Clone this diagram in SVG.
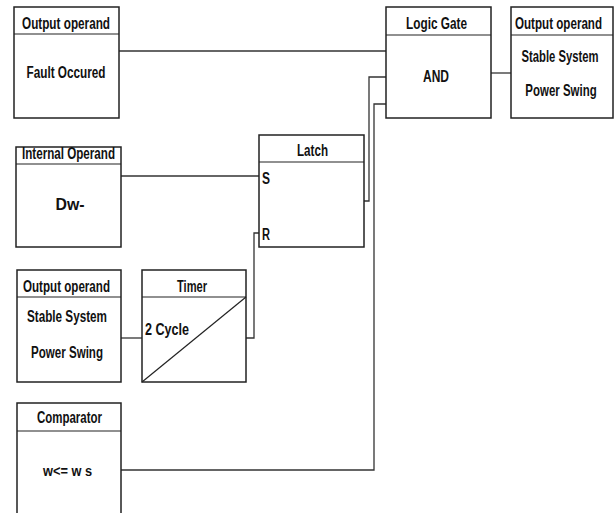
<svg xmlns="http://www.w3.org/2000/svg" width="614" height="513" viewBox="0 0 614 513">
<style>
.box{fill:#fff;stroke:#222;stroke-width:1.5}
.sep{stroke:#222;stroke-width:1.2}
.wire{fill:none;stroke:#333;stroke-width:1.3}
text{font-family:"Liberation Sans",Arial,sans-serif;font-weight:bold;font-size:16px;fill:#111}
.c{text-anchor:middle}
</style>
<rect width="614" height="513" fill="#fff"/>
<g id="connectors">
<path class="wire" d="M119 51H386"/>
<path class="wire" d="M491 73H511"/>
<path class="wire" d="M121 176H259"/>
<path class="wire" d="M364 201H369V77H386"/>
<path class="wire" d="M121 338H142"/>
<path class="wire" d="M246 338H254V233H259"/>
<path class="wire" d="M121 470H374V104H386"/>
</g>
<g id="fault">
<rect class="box" x="14" y="7" width="105" height="111"/>
<line class="sep" x1="14" y1="34" x2="119" y2="34"/>
<text class="c" x="66" y="29" textLength="88" lengthAdjust="spacingAndGlyphs">Output operand</text>
<text class="c" x="66" y="78" textLength="79" lengthAdjust="spacingAndGlyphs">Fault Occured</text>
</g>
<g id="logic">
<rect class="box" x="386" y="7" width="105" height="111"/>
<line class="sep" x1="386" y1="35" x2="491" y2="35"/>
<text class="c" x="436.5" y="29" textLength="61" lengthAdjust="spacingAndGlyphs">Logic Gate</text>
<text class="c" x="436" y="82" textLength="26" lengthAdjust="spacingAndGlyphs">AND</text>
</g>
<g id="out2">
<rect class="box" x="511" y="7" width="102" height="111"/>
<line class="sep" x1="511" y1="35" x2="613" y2="35"/>
<text class="c" transform="translate(558.5 29) scale(0.72 1)" textLength="121" lengthAdjust="spacingAndGlyphs">Output operand</text>
<text class="c" transform="translate(560 62) scale(0.72 1)" textLength="107" lengthAdjust="spacingAndGlyphs">Stable System</text>
<text class="c" transform="translate(561 96) scale(0.72 1)" textLength="99" lengthAdjust="spacingAndGlyphs">Power Swing</text>
</g>
<g id="internal">
<rect class="box" x="16" y="147" width="105" height="100"/>
<line class="sep" x1="16" y1="164" x2="121" y2="164"/>
<text class="c" x="68.5" y="159" textLength="93" lengthAdjust="spacingAndGlyphs">Internal Operand</text>
<text class="c" x="70" y="210" textLength="29" lengthAdjust="spacingAndGlyphs">Dw-</text>
</g>
<g id="latch">
<rect class="box" x="259" y="135" width="105" height="112"/>
<line class="sep" x1="259" y1="162" x2="364" y2="162"/>
<text class="c" x="312.5" y="156" textLength="31" lengthAdjust="spacingAndGlyphs">Latch</text>
<text x="262" y="184" textLength="8" lengthAdjust="spacingAndGlyphs">S</text>
<text x="262" y="240" textLength="8" lengthAdjust="spacingAndGlyphs">R</text>
</g>
<g id="out3">
<rect class="box" x="17" y="270" width="104" height="112"/>
<line class="sep" x1="17" y1="297" x2="121" y2="297"/>
<text class="c" x="66.5" y="292" textLength="87" lengthAdjust="spacingAndGlyphs">Output operand</text>
<text class="c" x="67" y="322" textLength="80" lengthAdjust="spacingAndGlyphs">Stable System</text>
<text class="c" x="67" y="358" textLength="72" lengthAdjust="spacingAndGlyphs">Power Swing</text>
</g>
<g id="timer">
<rect class="box" x="142" y="270" width="104" height="112"/>
<line class="sep" x1="142" y1="297" x2="246" y2="297"/>
<line class="sep" x1="142" y1="382" x2="246" y2="297"/>
<text class="c" x="192" y="292" textLength="30" lengthAdjust="spacingAndGlyphs">Timer</text>
<text x="145" y="335" textLength="44" lengthAdjust="spacingAndGlyphs">2 Cycle</text>
</g>
<g id="comparator">
<rect class="box" x="17" y="403" width="104" height="120"/>
<line class="sep" x1="17" y1="431" x2="121" y2="431"/>
<text class="c" x="69.5" y="423" textLength="65" lengthAdjust="spacingAndGlyphs">Comparator</text>
<text class="c" x="67.5" y="476" textLength="49" lengthAdjust="spacingAndGlyphs" style="font-size:14px">w&lt;= w s</text>
</g>
</svg>
